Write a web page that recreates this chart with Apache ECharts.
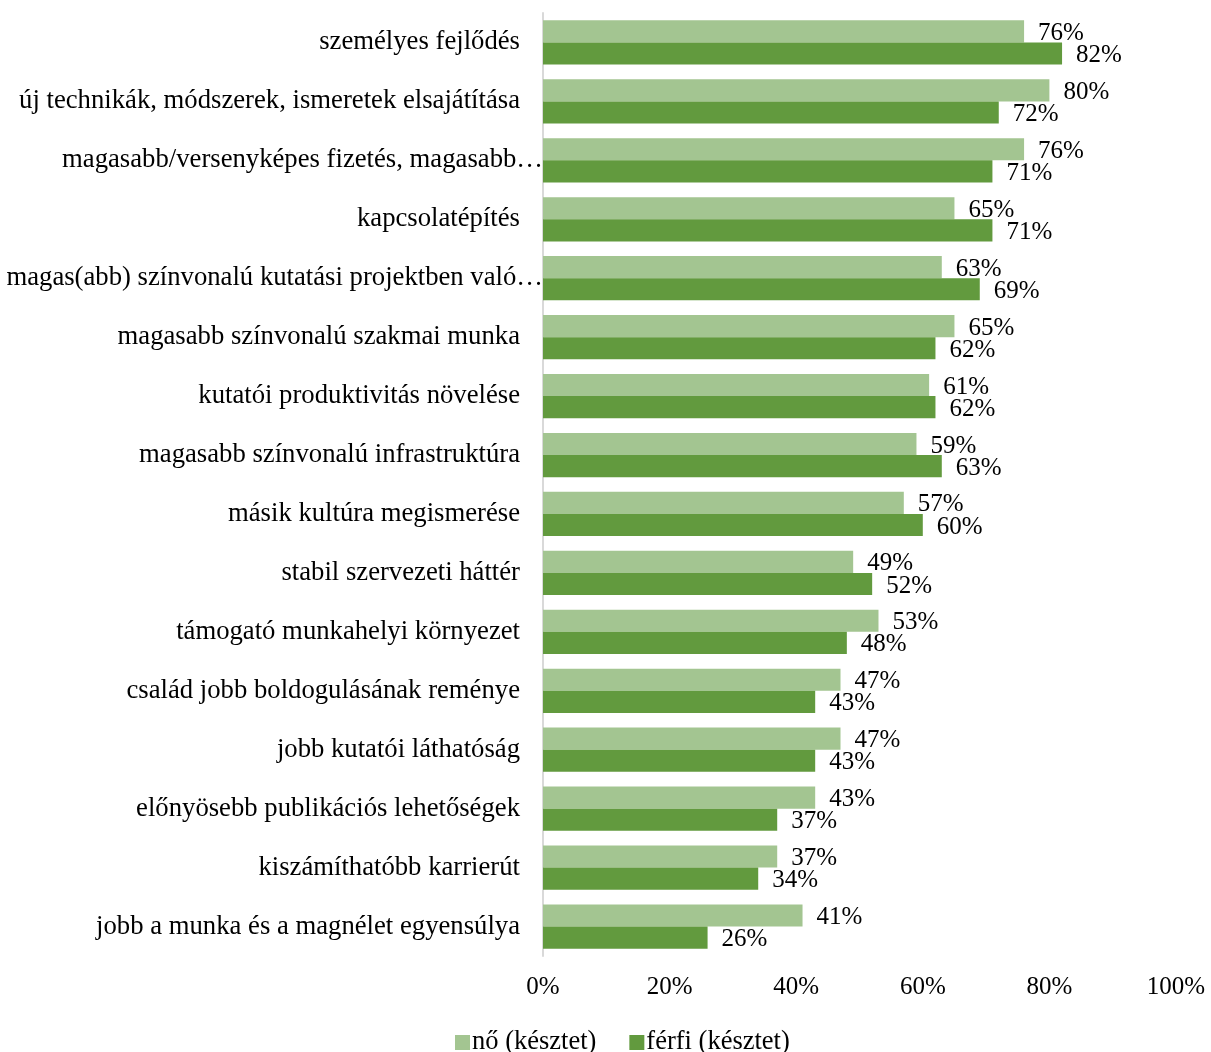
<!DOCTYPE html>
<html>
<head>
<meta charset="utf-8">
<script src="https://cdn.jsdelivr.net/npm/echarts@6/dist/echarts.min.js"></script>
<style>
  html, body { margin: 0; padding: 0; background: #fff; }
  #chart { width: 1211px; height: 1052px; }
</style>
</head>
<body>
<div id="chart"></div>
<script>
// Motivations, listed top to bottom
const categories = [
  'személyes fejlődés',
  'új technikák, módszerek, ismeretek elsajátítása',
  'magasabb/versenyképes fizetés, magasabb…',
  'kapcsolatépítés',
  'magas(abb) színvonalú kutatási projektben való…',
  'magasabb színvonalú szakmai munka',
  'kutatói produktivitás növelése',
  'magasabb színvonalú infrastruktúra',
  'másik kultúra megismerése',
  'stabil szervezeti háttér',
  'támogató munkahelyi környezet',
  'család jobb boldogulásának reménye',
  'jobb kutatói láthatóság',
  'előnyösebb publikációs lehetőségek',
  'kiszámíthatóbb karrierút',
  'jobb a munka és a magnélet egyensúlya'
];
const seriesNames = ['nő (késztet)', 'férfi (késztet)'];
const womenValues = [76, 80, 76, 65, 63, 65, 61, 59, 57, 49, 53, 47, 47, 43, 37, 41];
const menValues   = [82, 72, 71, 71, 69, 62, 62, 63, 60, 52, 48, 43, 43, 37, 34, 26];

const FONT = '"Liberation Serif", "Times New Roman", serif';
const chart = echarts.init(document.getElementById('chart'));

// Truncated labels run on up to the axis line
const categoryItems = categories.map(function (name) {
  return name.endsWith('…')
    ? { value: name, textStyle: { padding: [0, -23, 0, 0] } }
    : name;
});

chart.setOption({
  animation: false,
  textStyle: { fontFamily: FONT, color: '#000' },
  grid: { left: 543, right: 35, top: 13, bottom: 96, containLabel: false, outerBoundsMode: 'none' },
  legend: {
    top: 1024,
    left: 450,
    itemWidth: 15,
    itemHeight: 15,
    itemGap: 33,
    icon: 'rect',
    textStyle: { fontFamily: FONT, fontSize: 26.5, color: '#000', padding: [0, 0, 0, -3] },
    data: seriesNames
  },
  xAxis: {
    type: 'value',
    min: 0,
    max: 100,
    interval: 20,
    axisLine: { show: false },
    axisTick: { show: false },
    splitLine: { show: false },
    axisLabel: {
      formatter: '{value}%',
      fontFamily: FONT,
      fontSize: 25,
      color: '#000',
      margin: 19
    }
  },
  yAxis: {
    type: 'category',
    inverse: true,
    data: categoryItems,
    axisLine: { show: true, lineStyle: { color: '#d9d9d9', width: 2 } },
    axisTick: { show: false },
    axisLabel: {
      fontFamily: FONT,
      fontSize: 26.7,
      color: '#000',
      margin: 23
    }
  },
  series: [
    {
      name: seriesNames[0],
      type: 'bar',
      data: womenValues,
      barGap: '0%',
      barCategoryGap: '25%',
      itemStyle: { color: '#a3c591' },
      label: {
        show: true,
        position: 'right',
        distance: 14,
        offset: [0, 2],
        formatter: '{c}%',
        fontFamily: FONT,
        fontSize: 25,
        color: '#000'
      }
    },
    {
      name: seriesNames[1],
      type: 'bar',
      data: menValues,
      barGap: '0%',
      barCategoryGap: '25%',
      itemStyle: { color: '#629a3e' },
      label: {
        show: true,
        position: 'right',
        distance: 14,
        offset: [0, 2],
        formatter: '{c}%',
        fontFamily: FONT,
        fontSize: 25,
        color: '#000'
      }
    }
  ]
});
</script>
</body>
</html>
